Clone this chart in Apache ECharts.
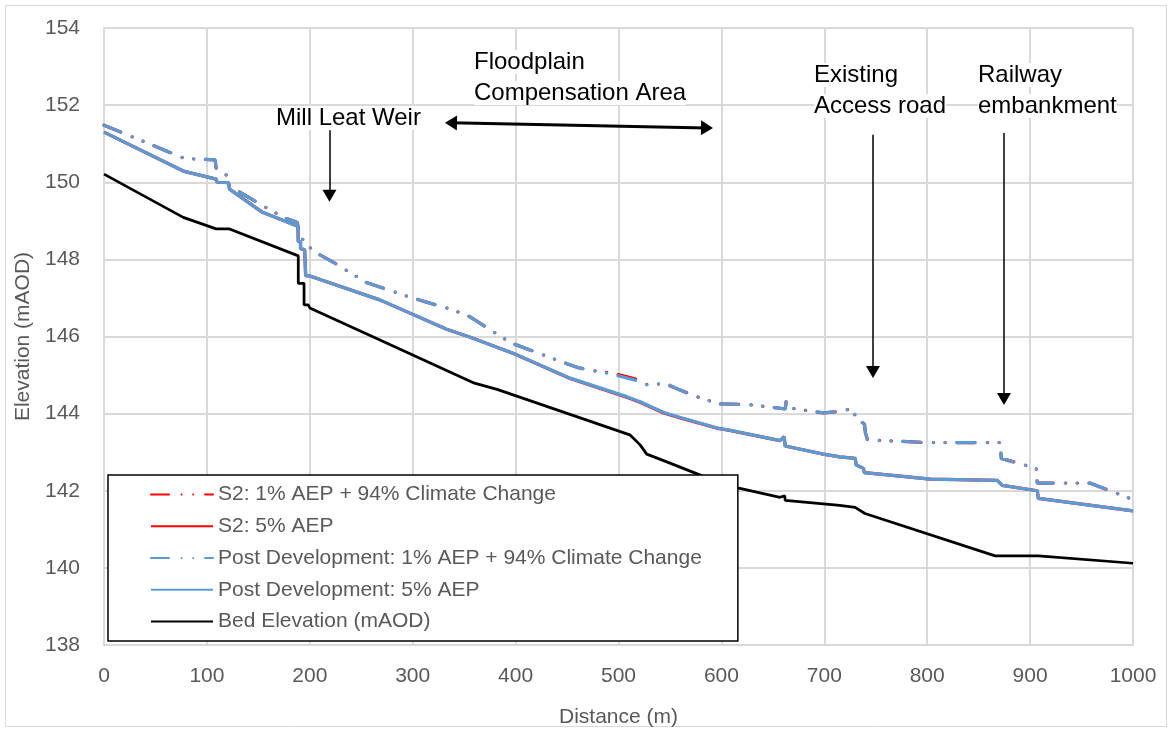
<!DOCTYPE html>
<html>
<head>
<meta charset="utf-8">
<script src="https://cdn.jsdelivr.net/npm/echarts@6/dist/echarts.min.js"></script>
<style>
html,body{margin:0;padding:0;background:#fff;}
#chart{width:1172px;height:731px;}
</style>
</head>
<body>
<div id="chart"></div>
<script>
// ---- Data (distance m, elevation mAOD) ----
const seriesNames = [
  'S2: 1% AEP + 94% Climate Change',
  'S2: 5% AEP',
  'Post Development: 1% AEP + 94% Climate Change',
  'Post Development: 5% AEP',
  'Bed Elevation (mAOD)'
];

const xTicks = [0,100,200,300,400,500,600,700,800,900,1000];
const yTicks = [138,140,142,144,146,148,150,152,154];

const bedElevation = [
  [0,150.21],[77,149.09],[109,148.79],[122,148.79],[188.8,148.09],[188.8,147.38],
  [194.4,147.38],[194.4,146.82],[198.5,146.82],[200,146.74],[265,145.95],[360,144.79],
  [382,144.63],[511,143.45],[521,143.19],[527.4,142.95],[542,142.8],[582,142.38],
  [618,142.06],[657,141.83],[661.5,141.87],[662,141.75],[715,141.62],[730,141.57],
  [739.5,141.41],[866,140.31],[908,140.31],[1000,140.12]
];

const postDev5 = [
  [0,151.3],[78,150.28],[109,150.08],[110,150.0],[121,149.99],[122,149.82],[154,149.22],
  [188.5,148.86],[188.8,148.46],[191,148.46],[191,148.28],[195,148.25],[196,147.58],
  [200,147.57],[268,146.95],[333,146.19],[356,145.98],[398,145.56],[453,144.92],
  [508,144.44],[521,144.31],[544,144.03],[560,143.9],[597,143.62],[608,143.57],
  [657,143.3],[661,143.4],[662,143.16],[699,142.95],[715,142.88],[730,142.84],
  [731,142.67],[738,142.58],[739,142.47],[803,142.3],[868,142.27],[873,142.14],
  [907,142.0],[908,141.8],[1000,141.48]
];

const s2_5 = [
  [0,151.3],[78,150.28],[109,150.08],[110,150.0],[121,149.99],[122,149.82],[154,149.22],
  [188.5,148.86],[188.8,148.46],[191,148.46],[191,148.28],[195,148.25],[196,147.58],
  [200,147.57],[268,146.95],[333,146.19],[356,145.98],[398,145.56],[453,144.91],
  [508,144.425],[521,144.295],[544,144.015],[560,143.89],[597,143.615],[608,143.565],
  [657,143.3],[661,143.4],[662,143.16],[699,142.95],[715,142.88],[730,142.84],
  [731,142.67],[738,142.58],[739,142.47],[803,142.3],[868,142.27],[873,142.14],
  [907,142.0],[908,141.8],[1000,141.48]
];

const postDev1cc = [
  [0,151.48],[78,150.62],[108,150.58],[109,150.36],[115,150.3],[120,150.15],[122,149.9],
  [153,149.41],[175,149.08],[186,148.98],[188,148.95],[189,148.6],[193,148.52],
  [198,148.35],[207,148.16],[229,147.83],[234,147.74],[255,147.4],[296,147.03],
  [339,146.69],[355,146.52],[395,145.84],[440,145.39],[461,145.19],[494,145.02],
  [516,144.87],[526,144.74],[546,144.79],[558,144.63],[580,144.4],[599,144.25],
  [624,144.24],[654,144.15],[662,144.12],[663,144.33],[668,144.14],[680,144.09],
  [699,144.02],[712,144.05],[724,144.11],[729,144.1],[730,143.9],[739,143.73],
  [740,143.5],[742,143.32],[800,143.25],[871,143.25],[872,142.84],[884,142.75],
  [906,142.58],[907,142.2],[958,142.2],[1000,141.77]
];

const s2_1cc = [
  [0,151.48],[78,150.62],[108,150.58],[109,150.36],[115,150.3],[120,150.15],[122,149.9],
  [153,149.41],[175,149.08],[186,148.98],[188,148.95],[189,148.6],[193,148.52],
  [198,148.35],[207,148.16],[229,147.83],[234,147.74],[255,147.4],[296,147.03],
  [339,146.69],[355,146.52],[395,145.84],[440,145.39],[461,145.19],[472,145.13],
  [494,145.05],[516,144.9],[526,144.76],[546,144.77],[558,144.63],[580,144.4],[599,144.25],
  [624,144.24],[654,144.15],[662,144.12],[663,144.33],[668,144.14],[680,144.09],
  [699,144.02],[712,144.05],[724,144.11],[729,144.1],[730,143.9],[739,143.73],
  [740,143.5],[742,143.32],[800,143.25],[871,143.25],[872,142.84],[884,142.75],
  [906,142.58],[907,142.2],[958,142.2],[1000,141.77]
];

// annotation arrows in data coordinates [distance, elevation]
const millLeatArrow = [[219.1,151.35],[219.1,149.65]];
const floodplainArrow = [[337.2,151.54],[586,151.41]];
const accessRoadArrow = [[747.3,151.23],[747.3,145.08]];
const railwayArrow = [[874.6,151.28],[874.6,144.38]];

// ---- Styles ----
const FONT = 'Liberation Sans, Arial, sans-serif';
const GREY = '#595959';
const RED = '#FF0000';
const BLUE = '#5B9BD5';
const dashDotDot = [18, 12.5, 0.01, 11.7, 0.01, 11.8];

const chart = echarts.init(document.getElementById('chart'), null, {renderer:'canvas'});

function arrowLine(pts, bothEnds, width) {
  return [
    {coord: pts[0], symbol: bothEnds ? 'triangle' : 'none', symbolSize: bothEnds ? [15,12] : 0,
     lineStyle: {width: width, color: '#000', type: 'solid'}},
    {coord: pts[1], symbol: 'triangle', symbolSize: bothEnds ? [15,12] : [14,12]}
  ];
}

function note(text, x, y) {
  return {type: 'text', silent: true, z: 50,
    style: {text: text, x: x, y: y, fill: '#000', font: '24px ' + FONT,
            align: 'left', verticalAlign: 'middle', backgroundColor: '#fff'}};
}

const option = {
  animation: false,
  backgroundColor: '#fff',
  grid: {left: 104, right: 39, top: 28, bottom: 86, containLabel: false, outerBoundsMode: 'none'},
  xAxis: {
    type: 'value',
    min: xTicks[0], max: xTicks[xTicks.length-1], interval: xTicks[1]-xTicks[0],
    name: 'Distance (m)', nameLocation: 'middle', nameGap: 62,
    nameTextStyle: {fontSize: 21, color: GREY, fontFamily: FONT},
    axisLine: {show: true, lineStyle: {color: '#d9d9d9', width: 2}},
    axisTick: {show: false},
    axisLabel: {fontSize: 21, color: GREY, fontFamily: FONT, margin: 21,
                formatter: function (v) { return String(v); }},
    splitLine: {show: true, lineStyle: {color: '#d9d9d9', width: 2}}
  },
  yAxis: {
    type: 'value',
    min: yTicks[0], max: yTicks[yTicks.length-1], interval: yTicks[1]-yTicks[0],
    name: 'Elevation (mAOD)', nameLocation: 'middle', nameGap: 61,
    nameTextStyle: {fontSize: 21, color: GREY, fontFamily: FONT},
    axisLine: {show: true, lineStyle: {color: '#d9d9d9', width: 2}},
    axisTick: {show: false},
    axisLabel: {fontSize: 21, color: GREY, fontFamily: FONT, margin: 24,
                formatter: function (v) { return String(v); }},
    splitLine: {show: true, lineStyle: {color: '#d9d9d9', width: 2}}
  },
  legend: {
    orient: 'vertical', left: 108, top: 475,
    itemWidth: 62, itemHeight: 14, itemGap: 10.75,
    padding: [9, 36, 9, 42],
    borderColor: '#000', borderWidth: 1.5, backgroundColor: '#fff',
    itemStyle: {opacity: 0},
    textStyle: {fontSize: 21, color: GREY, fontFamily: FONT},
    data: seriesNames
  },
  series: [
    {name: seriesNames[0], type: 'line', data: s2_1cc, symbol: 'none',
     lineStyle: {color: RED, width: 3.25, type: dashDotDot, cap: 'round'}, itemStyle: {color: RED}},
    {name: seriesNames[1], type: 'line', data: s2_5, symbol: 'none',
     lineStyle: {color: RED, width: 3.25}, itemStyle: {color: RED}},
    {name: seriesNames[2], type: 'line', data: postDev1cc, symbol: 'none',
     lineStyle: {color: BLUE, width: 3.25, type: dashDotDot, cap: 'round'}, itemStyle: {color: BLUE}},
    {name: seriesNames[3], type: 'line', data: postDev5, symbol: 'none',
     lineStyle: {color: BLUE, width: 3.25}, itemStyle: {color: BLUE}},
    {name: seriesNames[4], type: 'line', data: bedElevation, symbol: 'none',
     lineStyle: {color: '#000', width: 2.75}, itemStyle: {color: '#000'},
     markLine: {
       silent: true, animation: false,
       label: {show: false},
       emphasis: {disabled: true},
       lineStyle: {color: '#000', type: 'solid', width: 1.5},
       itemStyle: {color: '#000'},
       data: [
         arrowLine(millLeatArrow, false, 1.5),
         arrowLine(floodplainArrow, true, 3),
         arrowLine(accessRoadArrow, false, 1.5),
         arrowLine(railwayArrow, false, 1.5)
       ]
     }}
  ],
  graphic: [
    {type: 'rect', silent: true, z: -10, shape: {x: 5.5, y: 5.5, width: 1161, height: 721},
     style: {fill: 'none', stroke: '#d9d9d9', lineWidth: 1}},
    note('Mill Leat Weir', 276, 118),
    note('Floodplain', 474, 62),
    note('Compensation Area', 474, 93),
    note('Existing', 814, 75),
    note('Access road', 814, 106),
    note('Railway', 978, 75),
    note('embankment', 978, 106)
  ]
};

chart.setOption(option);
</script>
</body>
</html>
